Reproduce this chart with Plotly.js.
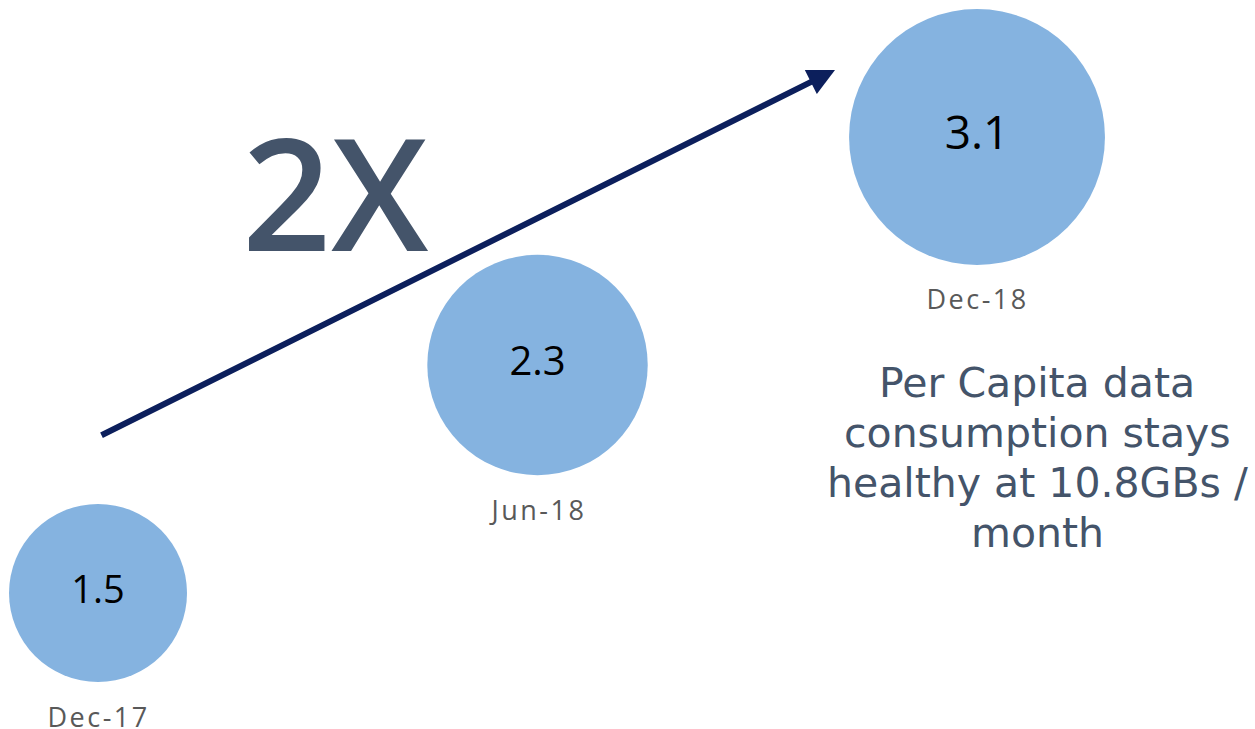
<!DOCTYPE html>
<html>
<head>
<meta charset="utf-8">
<script src="https://cdn.plot.ly/plotly-3.0.1.min.js"></script>
<style>
html,body{margin:0;padding:0;background:#fff;}
#chart{width:1255px;height:729px;}
.annotation[data-index="0"] text,.annotation[data-index="1"] text,.annotation[data-index="2"] text{letter-spacing:2.5px;}
</style>
</head>
<body>
<div id="chart"></div>
<script>
const periods = ["Dec-17", "Jun-18", "Dec-18"];
const values = [1.5, 2.3, 3.1];
const valueLabels = ["1.5", "2.3", "3.1"];
const headline = "2X";
const noteLines = ["Per Capita data", "consumption stays", "healthy at 10.8GBs /", "month"];

const W = 1255, H = 729;
const baseDiam = 178; // px diameter for the first value
const sizeref = 2 * values[0] / (baseDiam * baseDiam);
const idx = periods.map((_, i) => i);
const diam = values.map(v => baseDiam * Math.sqrt(v / values[0]));

const traces = [{
  type: "scatter",
  mode: "markers+text",
  x: idx,
  y: values,
  text: valueLabels,
  textposition: "middle center",
  textfont: {family: "Open Sans, sans-serif", size: [38, 40, 46], color: "#000000"},
  marker: {size: values, sizemode: "area", sizeref: sizeref, color: "#85b3e0", line: {width: 0}, opacity: 1},
  hoverinfo: "skip",
  cliponaxis: false,
  showlegend: false
}];

const annotations = [];
periods.forEach((p, i) => {
  annotations.push({
    x: idx[i], y: values[i], xref: "x", yref: "y",
    xanchor: "center", yanchor: "middle",
    text: p, showarrow: false,
    yshift: -(diam[i] / 2 + 34),
    font: {family: "Open Sans, sans-serif", size: 27, color: "#595959"}
  });
});
// arrow
annotations.push({
  x: 835 / W, y: 1 - 70 / H, xref: "paper", yref: "paper",
  ax: -735, ay: 366, axref: "pixel", ayref: "pixel",
  text: "", showarrow: true, arrowhead: 2, arrowsize: 0.9, arrowwidth: 6, arrowcolor: "#0c1f5c"
});
annotations.push({
  x: 335 / W, y: 1 - 191 / H, xref: "paper", yref: "paper",
  xanchor: "center", yanchor: "middle",
  text: headline, showarrow: false,
  font: {family: "Open Sans, sans-serif", size: 156, weight: 600, color: "#44546a"}
});
noteLines.forEach((t, k) => {
  annotations.push({
    x: 1037 / W, y: 1 - (383 + 50 * k) / H, xref: "paper", yref: "paper",
    xanchor: "center", yanchor: "middle",
    text: t, showarrow: false,
    font: {family: "DejaVu Sans, sans-serif", size: 41, color: "#44546a"}
  });
});

const layout = {
  width: W, height: H,
  margin: {l: 0, r: 0, t: 0, b: 0},
  paper_bgcolor: "#ffffff", plot_bgcolor: "#ffffff",
  xaxis: {range: [-0.223, 2.6325], visible: false, fixedrange: true},
  yaxis: {range: [1.0228, 3.5807], visible: false, fixedrange: true},
  annotations: annotations,
  showlegend: false
};

Plotly.newPlot("chart", traces, layout, {displayModeBar: false, staticPlot: true});
</script>
</body>
</html>
